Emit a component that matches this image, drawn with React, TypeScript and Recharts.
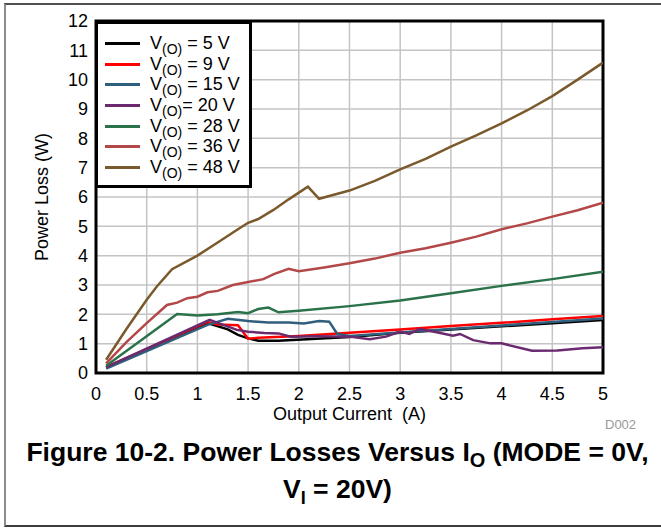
import * as React from "react";
import {
  LineChart,
  Line,
  XAxis,
  YAxis,
  CartesianGrid,
  Legend,
  ReferenceArea,
} from "recharts";

// Output current ticks (A) and power loss ticks (W)
const currentTicks = [0, 0.5, 1, 1.5, 2, 2.5, 3, 3.5, 4, 4.5, 5];
const lossTicks = [0, 1, 2, 3, 4, 5, 6, 7, 8, 9, 10, 11, 12];

// V(O) = 5 V
const current5V = [0.1, 1.1, 1.3, 1.4, 1.5, 1.6, 1.8, 2.5, 3.0, 3.5, 4.0, 4.5, 5.0];
const loss5V = [0.2, 1.7, 1.49, 1.3, 1.18, 1.1, 1.1, 1.23, 1.37, 1.48, 1.59, 1.7, 1.81];

// V(O) = 9 V
const current9V = [0.1, 1.1, 1.2, 1.4, 1.5, 1.6, 2.0, 2.5, 3.0, 3.5, 4.0, 4.5, 5.0];
const loss9V = [0.2, 1.74, 1.65, 1.63, 1.17, 1.2, 1.26, 1.37, 1.48, 1.6, 1.71, 1.83, 1.94];

// V(O) = 15 V
const current15V = [0.1, 1.1, 1.3, 1.5, 1.7, 1.9, 2.05, 2.2, 2.3, 2.38, 2.5, 3.0, 3.5, 4.0, 4.5, 5.0];
const loss15V = [0.15, 1.64, 1.85, 1.77, 1.72, 1.72, 1.69, 1.77, 1.75, 1.33, 1.26, 1.38, 1.5, 1.62, 1.74, 1.86];

// V(O) = 20 V
const current20V = [0.1, 1.12, 1.39, 1.5, 1.66, 1.8, 1.92, 2.2, 2.5, 2.7, 2.86, 3.0, 3.09, 3.19, 3.36, 3.52, 3.59, 3.72, 3.89, 4.0, 4.3, 4.55, 4.8, 5.0];
const loss20V = [0.2, 1.81, 1.47, 1.41, 1.36, 1.35, 1.24, 1.25, 1.24, 1.15, 1.24, 1.41, 1.33, 1.5, 1.39, 1.27, 1.33, 1.12, 1.01, 1.01, 0.76, 0.77, 0.84, 0.88];

// V(O) = 28 V
const current28V = [0.1, 0.8, 1.0, 1.2, 1.4, 1.5, 1.6, 1.7, 1.8, 2.0, 2.5, 3.0, 3.5, 4.0, 4.5, 5.0];
const loss28V = [0.25, 2.01, 1.96, 2.0, 2.08, 2.04, 2.18, 2.23, 2.07, 2.12, 2.28, 2.47, 2.72, 2.97, 3.2, 3.45];

// V(O) = 36 V
const current36V = [0.1, 0.3, 0.5, 0.7, 0.8, 0.9, 1.0, 1.1, 1.2, 1.35, 1.5, 1.65, 1.76, 1.9, 2.0, 2.25, 2.5, 2.75, 3.0, 3.25, 3.5, 3.75, 4.0, 4.25, 4.5, 4.75, 5.0];
const loss36V = [0.33, 1.05, 1.7, 2.32, 2.4, 2.55, 2.6, 2.75, 2.8, 3.0, 3.1, 3.2, 3.38, 3.55, 3.47, 3.6, 3.74, 3.9, 4.1, 4.25, 4.44, 4.65, 4.9, 5.1, 5.33, 5.55, 5.81];

// V(O) = 48 V
const current48V = [0.1, 0.3, 0.5, 0.6, 0.75, 1.0, 1.2, 1.4, 1.5, 1.6, 1.75, 1.9, 2.09, 2.2, 2.5, 2.75, 3.0, 3.25, 3.5, 3.75, 4.0, 4.25, 4.5, 4.75, 5.0];
const loss48V = [0.45, 1.5, 2.5, 2.95, 3.54, 4.0, 4.45, 4.9, 5.12, 5.25, 5.56, 5.92, 6.35, 5.94, 6.22, 6.55, 6.94, 7.3, 7.72, 8.1, 8.51, 8.95, 9.44, 10.0, 10.58];

const legendSuffixes = [" = 5 V", " = 9 V", " = 15 V", "= 20 V", " = 28 V", " = 36 V", " = 48 V"];
const seriesColors = ["#000000", "#ff0000", "#2f5f7d", "#6b2a6f", "#2a7249", "#b24848", "#7a5a2c"];
const seriesCurrents = [current5V, current9V, current15V, current20V, current28V, current36V, current48V];
const seriesLosses = [loss5V, loss9V, loss15V, loss20V, loss28V, loss36V, loss48V];

const FONT = "'Liberation Sans', Arial, sans-serif";

const series = legendSuffixes.map((label, i) => ({
  label,
  color: seriesColors[i],
  data: seriesCurrents[i].map((current, j) => ({ current, loss: seriesLosses[i][j] })),
}));

// Boxed legend, kept in series order (5 V first)
function LegendBox() {
  return (
    <div
      style={{
        width: 157,
        height: 167,
        boxSizing: "border-box",
        border: "3px solid #000",
        background: "#fff",
        paddingTop: 9,
      }}
    >
      {series.map((s) => (
        <div
          key={s.label}
          style={{ display: "flex", alignItems: "center", height: 20.7 }}
        >
          <div
            style={{
              width: 35,
              height: 3,
              marginLeft: 7,
              background: s.color,
            }}
          />
          <span style={{ marginLeft: 10, fontSize: 18, color: "#000", whiteSpace: "pre", lineHeight: "18px" }}>
            V
            <span style={{ fontSize: 14, position: "relative", top: 5 }}>(O)</span>
            {s.label}
          </span>
        </div>
      ))}
    </div>
  );
}

export default function App() {
  return (
    <div
      style={{
        position: "absolute",
        left: 0,
        top: 0,
        width: 661,
        height: 529,
        background: "#fff",
        fontFamily: FONT,
        overflow: "hidden",
      }}
    >
      <div
        style={{
          position: "absolute",
          left: 4,
          top: 3,
          width: 657,
          height: 524,
          boxSizing: "border-box",
          borderTop: "2px solid #505050",
          borderLeft: "2px solid #8c8c8c",
          borderBottom: "2px solid #3c3c3c",
        }}
      />
      <LineChart
        width={661}
        height={529}
        margin={{ top: 21, right: 58, bottom: 126, left: 40 }}
        style={{ position: "absolute", left: 0, top: 0 }}
      >
        <CartesianGrid stroke="#c4c4c4" strokeWidth={1.5} />
        <XAxis
          type="number"
          dataKey="current"
          domain={[0, 5]}
          ticks={currentTicks}
          tickFormatter={(v: number) => String(v)}
          axisLine={false}
          tickLine={false}
          tickMargin={8}
          height={30}
          tick={{ fontSize: 18, fill: "#000" }}
          allowDataOverflow
        />
        <YAxis
          type="number"
          dataKey="loss"
          domain={[0, 12]}
          ticks={lossTicks}
          axisLine={false}
          tickLine={false}
          width={56}
          tick={{ fontSize: 18, fill: "#000" }}
          allowDataOverflow
        />
        <ReferenceArea
          x1={0}
          x2={5}
          y1={0}
          y2={12}
          fill="none"
          stroke="#000"
          strokeWidth={3}
          ifOverflow="visible"
        />
        {series.map((s) => (
          <Line
            key={s.label}
            data={s.data}
            dataKey="loss"
            name={s.label}
            type="linear"
            stroke={s.color}
            strokeWidth={2.5}
            dot={false}
            activeDot={false}
            isAnimationActive={false}
          />
        ))}
        <Legend
          layout="vertical"
          align="center"
          verticalAlign="middle"
          wrapperStyle={{ left: 95, top: 21, width: "auto" }}
          content={() => <LegendBox />}
        />
      </LineChart>

      <div
        style={{
          position: "absolute",
          left: 42,
          top: 197,
          transform: "translate(-50%, -50%) rotate(-90deg)",
          fontSize: 18,
          whiteSpace: "nowrap",
        }}
      >
        Power Loss (W)
      </div>
      <div
        style={{
          position: "absolute",
          left: 96,
          width: 507,
          top: 405,
          textAlign: "center",
          fontSize: 18,
          lineHeight: "18px",
          whiteSpace: "pre",
        }}
      >
        Output Current  (A)
      </div>
      <div
        style={{
          position: "absolute",
          left: 605,
          top: 418,
          fontSize: 13,
          lineHeight: "14px",
          color: "#9a9a9a",
        }}
      >
        D002
      </div>
      <div
        style={{
          position: "absolute",
          left: 7,
          width: 661,
          top: 435,
          textAlign: "center",
          fontSize: 26.5,
          fontWeight: "bold",
          lineHeight: "35px",
        }}
      >
        Figure 10-2. Power Losses Versus I
        <span style={{ fontSize: 20, position: "relative", top: 6 }}>O</span> (MODE = 0V,
        <br />V<span style={{ fontSize: 18, position: "relative", top: 6 }}>I</span> = 20V)
      </div>
    </div>
  );
}
